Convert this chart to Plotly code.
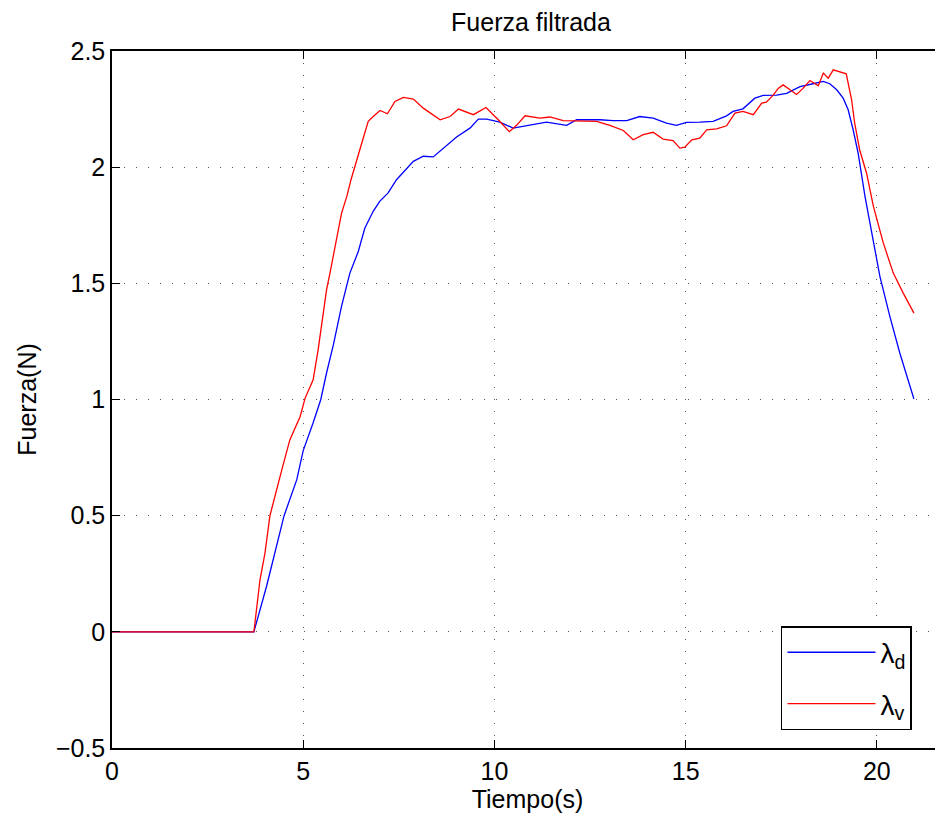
import plotly.graph_objects as go

# Time (s) and force (N) for lambda_d (blue)
t_d = [0, 3.71, 4.04, 4.5, 4.83, 5.0, 5.26, 5.46, 5.61, 5.79, 6.0, 6.22, 6.44, 6.61, 6.83,
       7.0, 7.22, 7.44, 7.88, 8.14, 8.40, 8.66, 9.01, 9.36, 9.58, 9.80, 10.14, 10.49, 10.93,
       11.36, 11.89, 12.15, 12.76, 13.1, 13.46, 13.8, 14.15, 14.5, 14.76, 15.02, 15.37,
       15.72, 16.07, 16.24, 16.5, 16.81, 17.03, 17.38, 17.64, 17.99, 18.33, 18.6, 18.77,
       18.95, 19.12, 19.25, 19.38, 19.51, 19.69, 19.91, 20.08, 20.34, 20.6, 20.97]
f_d = [0, 0, 0.195, 0.5, 0.654, 0.78, 0.90, 1.0, 1.114, 1.236, 1.40, 1.544, 1.637, 1.737,
       1.81, 1.853, 1.889, 1.946, 2.025, 2.047, 2.044, 2.082, 2.13, 2.168, 2.207, 2.207,
       2.194, 2.168, 2.18, 2.194, 2.18, 2.204, 2.204, 2.20, 2.20, 2.218, 2.211, 2.19, 2.18,
       2.193, 2.194, 2.197, 2.221, 2.24, 2.251, 2.297, 2.309, 2.31, 2.318, 2.347, 2.359,
       2.369, 2.359, 2.333, 2.297, 2.247, 2.161, 2.061, 1.874, 1.687, 1.53, 1.358, 1.20,
       1.002]

# Time (s) and force (N) for lambda_v (red)
t_v = [0, 3.71, 3.87, 4.0, 4.13, 4.22, 4.44, 4.65, 4.92, 5.05, 5.26, 5.39, 5.48, 5.61, 5.7,
       5.76, 5.83, 6.0, 6.14, 6.25, 6.48, 6.70, 6.83, 7.01, 7.2, 7.4, 7.62, 7.88, 8.14, 8.58,
       8.84, 9.06, 9.45, 9.78, 10.1, 10.39, 10.58, 10.8, 11.19, 11.45, 11.8, 12.24, 12.67,
       13.02, 13.37, 13.63, 13.89, 14.15, 14.41, 14.67, 14.85, 14.98, 15.16, 15.37, 15.55,
       15.81, 16.07, 16.29, 16.5, 16.77, 16.99, 17.11, 17.29, 17.42, 17.55, 17.73, 17.9,
       18.07, 18.25, 18.47, 18.6, 18.73, 18.86, 19.2, 19.34, 19.42, 19.55, 19.73, 19.91,
       20.17, 20.43, 20.69, 20.97]
f_v = [0, 0, 0.224, 0.339, 0.5, 0.554, 0.697, 0.826, 0.927, 1.006, 1.085, 1.214, 1.314,
       1.472, 1.544, 1.594, 1.659, 1.80, 1.874, 1.946, 2.075, 2.197, 2.218, 2.244, 2.23,
       2.283, 2.30, 2.293, 2.254, 2.204, 2.218, 2.25, 2.226, 2.257, 2.204, 2.153, 2.18,
       2.221, 2.211, 2.216, 2.20, 2.20, 2.197, 2.18, 2.158, 2.118, 2.14, 2.15, 2.121, 2.114,
       2.082, 2.086, 2.118, 2.125, 2.161, 2.165, 2.178, 2.233, 2.24, 2.226, 2.276, 2.28,
       2.31, 2.339, 2.354, 2.333, 2.313, 2.339, 2.373, 2.350, 2.405, 2.383, 2.419, 2.402,
       2.29, 2.19, 2.075, 1.975, 1.831, 1.673, 1.544, 1.458, 1.372]

x_ticks = [0, 5, 10, 15, 20]
y_ticks = [-0.5, 0, 0.5, 1, 1.5, 2, 2.5]

FONT = "Liberation Sans, Arial, sans-serif"
W, H = 935, 808

fig = go.Figure()
fig.add_trace(go.Scatter(x=t_d, y=f_d, mode="lines", name="λ<sub>d</sub>", legendgroup="d",
                         line=dict(color="#0000FF", width=1.3)))
fig.add_trace(go.Scatter(x=t_v, y=f_v, mode="lines", name="λ<sub>v</sub>", legendgroup="v",
                         line=dict(color="#FF0000", width=1.3)))

fig.update_layout(
    width=W, height=H,
    margin=dict(l=104, r=0, t=43, b=68),
    paper_bgcolor="white", plot_bgcolor="white",
    font=dict(family=FONT, size=25, color="black"),
    title=dict(text="Fuerza filtrada", x=523 / W, xanchor="center",
               y=1 - 14 / H, yanchor="middle", font=dict(size=25)),
    legend=dict(x=0.805, y=0.175, xanchor="left", yanchor="top",
                bordercolor="black", borderwidth=1.5, bgcolor="white",
                font=dict(size=28), itemwidth=88, tracegroupgap=12),
    showlegend=True,
)
fig.update_xaxes(range=[0, 21.73], tickvals=x_ticks, showgrid=True, gridcolor="#555555",
                 griddash="1px,11px", gridwidth=1.2, showline=True, linecolor="black",
                 linewidth=1.5, mirror="ticks", ticks="inside", ticklen=8, tickcolor="black",
                 zeroline=False, title=dict(text="Tiempo(s)", standoff=2, font=dict(size=25)),
                 tickfont=dict(size=25))
fig.update_yaxes(range=[-0.5, 2.5], tickvals=y_ticks, showgrid=True, gridcolor="#555555",
                 griddash="1px,11px", gridwidth=1.2, showline=True, linecolor="black",
                 linewidth=1.5, ticks="inside", ticklen=8, tickcolor="black", zeroline=False,
                 title=dict(text="Fuerza(N)", standoff=12, font=dict(size=25)),
                 tickfont=dict(size=25))

fig.write_html("out.html")
